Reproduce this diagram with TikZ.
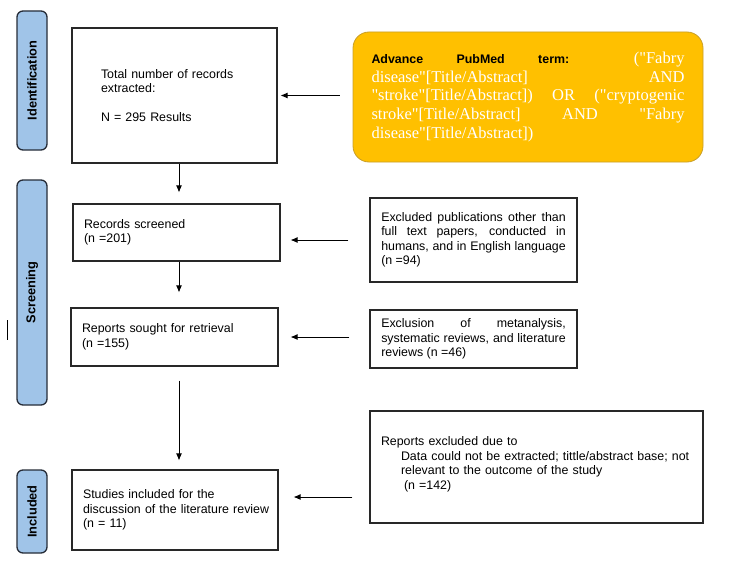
\documentclass[tikz,border=0pt]{standalone}
\usepackage{fontspec}
\setmainfont{Liberation Sans}
\newfontfamily\queryfont{Liberation Serif}
\usetikzlibrary{arrows.meta}
\definecolor{phaseblue}{RGB}{160,196,232}
\definecolor{phaseline}{RGB}{38,44,56}
\definecolor{queryfill}{RGB}{255,192,0}
\definecolor{queryline}{RGB}{200,158,40}
\definecolor{boxline}{RGB}{40,40,40}

\begin{document}
\begin{tikzpicture}[x=1pt, y=-1pt,
  box/.style={draw=boxline, line width=1.1pt, inner xsep=11pt, inner ysep=0pt,
    align=left, font=\fontsize{12.4}{14.5}\selectfont},
  phase/.style={draw=phaseline, line width=1.3pt, fill=phaseblue, rounded corners=6pt,
    rotate=90, minimum height=30pt, inner sep=0pt, font=\bfseries\fontsize{12.8}{14}\selectfont},
  arr/.style={-{Latex[length=7pt,width=6pt]}, line width=0.9pt}]
\useasboundingbox (0,0) rectangle (750,578);
\foreach \name/\y/\h/\txt in {ident/80.5/139/Identification, screen/292.5/225/Screening, incl/511.5/83/Included}
\node[phase, minimum width=\h pt] (\name) at (32,\y) {\txt};
\draw[line width=0.8pt] (7,320) -- (7,340);
\node[box, inner xsep=29pt, text width=147pt, minimum width=205pt, minimum height=135pt] (total) at (174.5,95.5)
  {\fontsize{12.4}{13.4}\selectfont Total number of records\\ extracted:\\[14.5pt] N = 295 Results};
\node[box, align=justify, draw=queryline, line width=0.8pt, fill=queryfill, rounded corners=16pt,
  inner xsep=18.5pt, text width=313pt, minimum width=350pt, minimum height=130pt,
  font=\fontsize{12.4}{18.8}\selectfont] (query) at (528,97)
  {\tolerance=10000\hbadness=10000\textbf{Advance PubMed term:}
  {\queryfont\fontsize{16.5}{18.8}\selectfont\color{white}("Fabry\linebreak
  disease"[Title/Abstract] AND\linebreak
  "stroke"[Title/Abstract]) OR ("cryptogenic\linebreak
  stroke"[Title/Abstract] AND "Fabry\linebreak
  disease"[Title/Abstract])\par}};
\node[box, text width=185pt, minimum width=207pt, minimum height=57pt] (screened) at (176.5,232.5)
  {Records screened\\ (n =201)};
\node[box, text width=185pt, minimum width=207pt, minimum height=58pt] (sought) at (174.5,337)
  {Reports sought for retrieval\\ (n =155)};
\node[box, text width=184pt, minimum width=206pt, minimum height=80pt] (included) at (175,510)
  {Studies included for the\\ \mbox{discussion of the literature review}\\ (n = 11)};
\node[box, align=justify, inner xsep=11.25pt, text width=184.5pt, minimum width=207pt, minimum height=84pt] (excl1) at (473.5,240)
  {\tolerance=10000\hbadness=10000 Excluded publications other than\linebreak full text papers, conducted in\linebreak
  humans, and in English language\linebreak (n =94)};
\node[box, align=justify, inner xsep=11.25pt, text width=184.5pt, minimum width=207pt, minimum height=58pt] (excl2) at (473.5,339)
  {\tolerance=10000\hbadness=10000 Exclusion of metanalysis,\linebreak systematic reviews, and literature\linebreak reviews (n =46)};
\node[box, text width=311pt, minimum width=333pt, minimum height=112pt] (reports) at (536.5,467)
  {Reports excluded due to\\ \hspace*{20pt}Data could not be extracted; tittle/abstract base; not\\
  \hspace*{20pt}relevant to the outcome of the study\\ \hspace*{23pt}(n =142)\\[-7pt]\mbox{}};
\coordinate (spine) at (179,0);
\coordinate (inc-in) at ([yshift=13pt]included.east);
\foreach \a/\b/\s/\e in {total/screened/0/11, screened/sought/0/15, sought/included/14/9}
\draw[arr, shorten <=\s pt, shorten >=\e pt] (\a.south -| spine) -- (\b.north -| spine);
\draw[arr, shorten <=13pt, shorten >=3pt] (query.west |- total.east) -- (total.east);
\draw[arr, shorten <=21pt, shorten >=10pt] (excl1.west) -- (excl1.west -| screened.east);
\draw[arr, shorten <=20pt, shorten >=12pt] (excl2.west |- sought.east) -- (sought.east);
\draw[arr, shorten <=17pt, shorten >=15pt] (reports.west |- inc-in) -- (inc-in);
\end{tikzpicture}
\end{document}
